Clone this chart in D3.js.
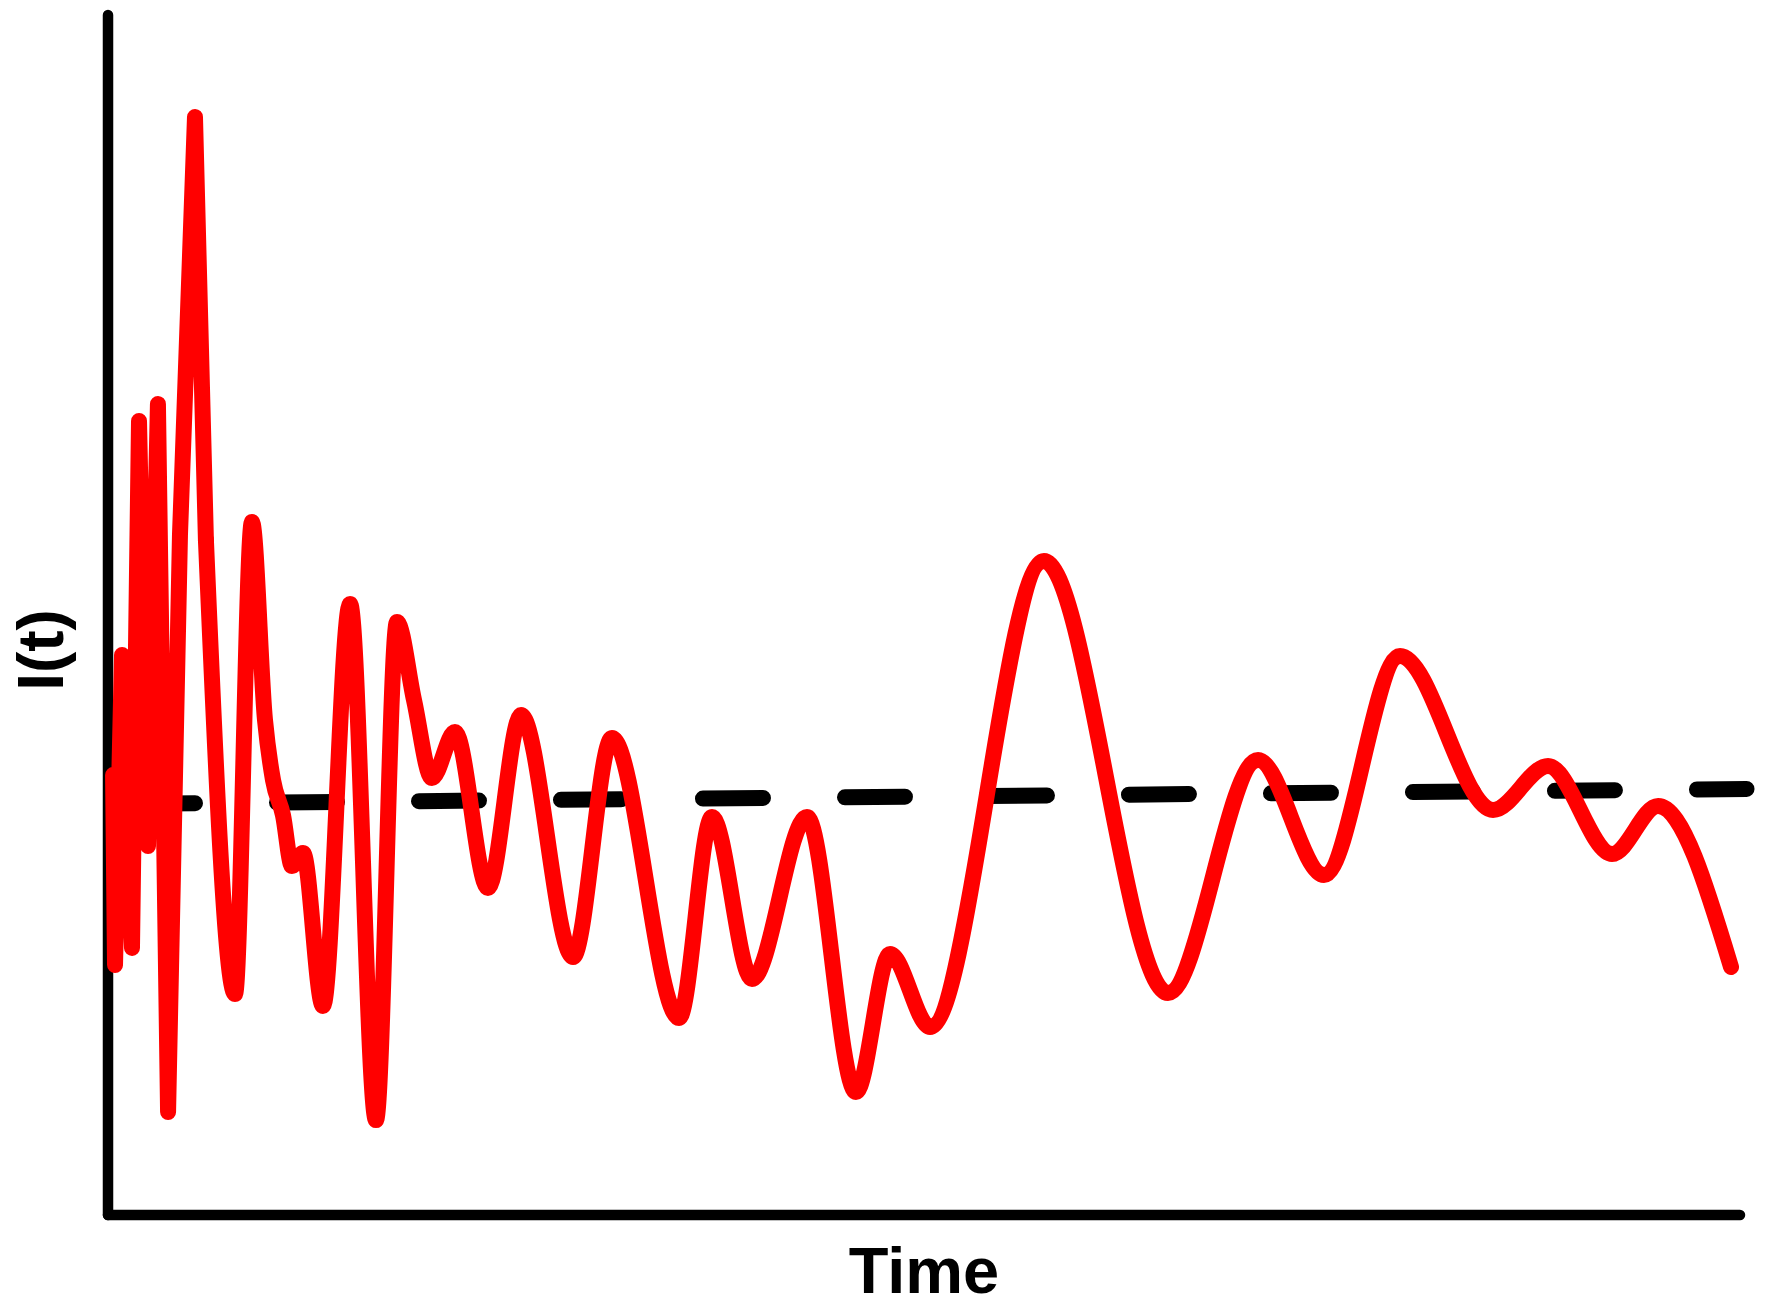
<!DOCTYPE html>
<html>
<head>
<meta charset="utf-8">
<script src="https://cdnjs.cloudflare.com/ajax/libs/d3/7.8.5/d3.min.js"></script>
<style>
  body { margin: 0; background: #fff; }
  text { font-family: "Liberation Sans", Arial, sans-serif; font-weight: bold; fill: #000; }
</style>
</head>
<body>
<svg width="1774" height="1310"></svg>
<script>
// I(t), time in arbitrary units (0..100)
var times = [0.31, 0.43, 0.86, 1.47, 1.90, 2.45, 3.06, 3.68, 4.41, 5.33,
             6.00, 7.78, 8.82, 9.62, 10.11, 10.72, 11.27, 11.95, 13.17, 14.83,
             16.42, 17.71, 18.75, 19.85, 21.26, 23.28, 25.31, 28.49, 30.88, 34.99,
             37.01, 39.46, 42.83, 45.83, 47.92, 50.37, 57.35, 64.95, 70.47, 74.51,
             79.17, 84.87, 88.24, 92.16, 94.98, 99.45];
var intensity = [44.0, 25.0, 56.0, 26.7, 79.4, 36.9, 81.1, 10.3, 68.0, 109.8,
                 67.5, 22.1, 69.3, 49.5, 43.5, 40.0, 34.9, 36.2, 20.9, 61.1,
                 9.5, 59.3, 51.5, 43.7, 48.3, 32.7, 50.0, 25.8, 47.7, 19.7,
                 39.8, 23.6, 39.8, 12.3, 26.1, 18.8, 65.4, 22.2, 45.5, 34.0,
                 55.9, 40.5, 44.9, 36.1, 40.9, 24.8];

// the first, fastest spikes are a plain polyline in the figure
var splitTime = 6.00;

// dashed reference level
var levelTimes = [0, 100.4];
var levelValues = [41.1, 42.6];

var xLabel = "Time";
var yLabel = "I(t)";

var svg = d3.select("svg"),
    margin = {top: 15, right: 34, bottom: 95, left: 108},
    width = +svg.attr("width") - margin.left - margin.right,
    height = +svg.attr("height") - margin.top - margin.bottom;

var x = d3.scaleLinear()
    .domain([0, 100])
    .range([margin.left, margin.left + width]);

var y = d3.scaleLinear()
    .domain([0, 120])
    .range([margin.top + height, margin.top]);

var series = times.map(function(t, i) { return {t: t, v: intensity[i]}; });
var level = levelTimes.map(function(t, i) { return {t: t, v: levelValues[i]}; });

var line = d3.line()
    .x(function(d) { return x(d.t); })
    .y(function(d) { return y(d.v); });

// axes: plain L-shaped lines, no ticks
var axes = svg.append("g")
    .attr("stroke", "#000")
    .attr("stroke-width", 10.5)
    .attr("stroke-linecap", "round");

axes.append("line")
    .attr("x1", x.range()[0]).attr("x2", x.range()[0])
    .attr("y1", y.range()[0]).attr("y2", y.range()[1]);

axes.append("line")
    .attr("x1", x.range()[0]).attr("x2", x.range()[1])
    .attr("y1", y.range()[0]).attr("y2", y.range()[0]);

// dashed level under the red curve
svg.append("path")
    .datum(level)
    .attr("fill", "none")
    .attr("stroke", "#000")
    .attr("stroke-width", 16)
    .attr("stroke-linecap", "round")
    .attr("stroke-dasharray", "60 82")
    .attr("stroke-dashoffset", 115)
    .attr("d", line.curve(d3.curveLinear));

var red = svg.append("g")
    .attr("fill", "none")
    .attr("stroke", "#ff0000")
    .attr("stroke-width", 16)
    .attr("stroke-linecap", "round")
    .attr("stroke-linejoin", "round");

red.append("path")
    .datum(series.filter(function(d) { return d.t <= splitTime; }))
    .attr("d", line.curve(d3.curveLinear));

red.append("path")
    .datum(series.filter(function(d) { return d.t >= splitTime; }))
    .attr("d", line.curve(d3.curveMonotoneX));

svg.append("text")
    .attr("x", (x.range()[0] + x.range()[1]) / 2)
    .attr("y", 1293)
    .attr("text-anchor", "middle")
    .attr("font-size", 65)
    .text(xLabel);

svg.append("text")
    .attr("transform", "translate(63,650) rotate(-90)")
    .attr("text-anchor", "middle")
    .attr("font-size", 64)
    .text(yLabel);
</script>
</body>
</html>
